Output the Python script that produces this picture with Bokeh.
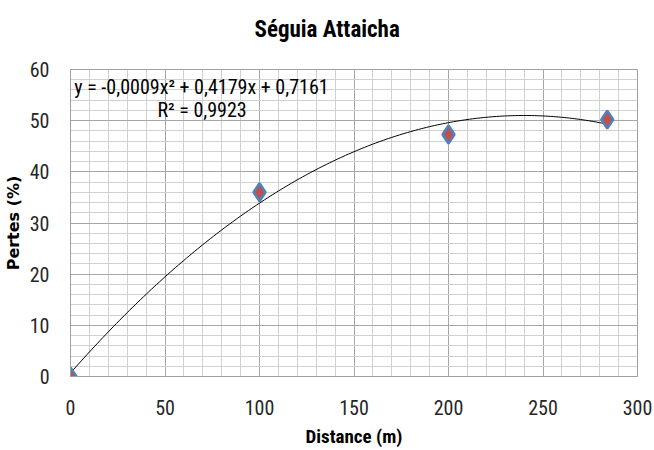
import numpy as np
from bokeh.plotting import figure
from bokeh.models import Range1d, Label, Title, FixedTicker
from bokeh.embed import file_html
from bokeh.resources import INLINE

distance = [0, 100, 200, 284]
pertes = [0, 36, 47.3, 50.2]
x_ticks = [0, 50, 100, 150, 200, 250, 300]
y_ticks = [0, 10, 20, 30, 40, 50, 60]
title_text = "Séguia Attaicha"
equation_text = "y = -0,0009x² + 0,4179x + 0,7161"
r2_text = "R² = 0,9923"

FONT = "Roboto Condensed, DejaVu Sans Condensed, Lato"

p = figure(width=654, height=450, output_backend="svg", toolbar_location=None,
           x_range=Range1d(0, 300), y_range=Range1d(0, 60),
           min_border_left=70, min_border_right=17, min_border_top=69, min_border_bottom=74)
# an empty second line lifts the title away from the plot frame
p.title = Title(text=title_text + "\n ", align="left", offset=184, vertical_align="bottom",
                text_font=FONT, text_font_size="23px", text_font_style="bold",
                text_color="#000000", standoff=0)

# trendline (2nd-order polynomial fit of the data)
coef = np.polyfit(distance, pertes, 2)
xs = np.linspace(0, max(distance), 200)
p.line(xs, np.polyval(coef, xs), line_color="#000000", line_width=1)

p.scatter(distance, pertes, marker="diamond", size=18, fill_color="#C0504D",
          line_color="#4F81BD", line_width=2.5)

for ax in (p.xaxis, p.yaxis):
    ax.major_tick_line_color = None
    ax.minor_tick_line_color = None
    ax.axis_line_color = "#a0a0a0"
    ax.major_label_text_font = FONT
    ax.major_label_text_font_size = "20px"
    ax.major_label_text_font_style = "normal"
    ax.major_label_text_color = "#262626"
    ax.axis_label_text_color = "#000000"
    ax.axis_label_text_font_style = "bold"

p.xaxis.ticker = FixedTicker(ticks=x_ticks, minor_ticks=list(range(0, 301, 10)))
p.yaxis.ticker = FixedTicker(ticks=y_ticks, minor_ticks=list(range(0, 61, 2)))
p.xaxis.major_label_standoff = 17
p.yaxis.major_label_standoff = 15
p.xaxis.axis_label = "Distance (m)"
p.xaxis.axis_label_text_font = FONT
p.xaxis.axis_label_text_font_size = "19px"
p.xaxis.axis_label_standoff = 7
p.yaxis.axis_label = "Pertes (%)"
p.yaxis.axis_label_text_font = "DejaVu Sans"
p.yaxis.axis_label_text_font_size = "16px"
p.yaxis.axis_label_standoff = 4

p.xgrid.grid_line_color = "#a6a6a6"
p.ygrid.grid_line_color = "#a6a6a6"
p.xgrid.minor_grid_line_color = "#d0d0d0"
p.ygrid.minor_grid_line_color = "#d0d0d0"
p.outline_line_color = "#a0a0a0"
p.background_fill_color = "#ffffff"
p.border_fill_color = "#ffffff"

p.add_layout(Label(x=2, y=56.5, text=equation_text, text_font=FONT, text_font_size="20px",
                   text_baseline="middle", text_color="#000000"))
p.add_layout(Label(x=46, y=52, text=r2_text, text_font=FONT, text_font_size="20px",
                   text_baseline="middle", text_color="#000000"))

open("out.html", "w").write(file_html(p, INLINE))
